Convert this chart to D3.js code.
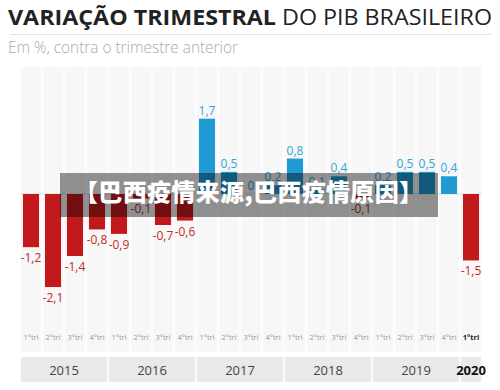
<!DOCTYPE html>
<html><head><meta charset="utf-8">
<script src="https://cdn.jsdelivr.net/npm/d3@7"></script>
<style>body{margin:0;background:#fff}svg{display:block}</style>
</head><body>
<svg id="c" width="500" height="390"></svg>
<script>
const years = ["2015","2016","2017","2018","2019","2020"];
const quarters = ["1°tri","2°tri","3°tri","4°tri"];
const yearQuarterCounts = [4,4,4,4,4,1];
const values = [-1.2,-2.1,-1.4,-0.8, -0.9,-0.1,-0.7,-0.6, 1.7,0.5,0,0.2, 0.8,0.1,0.4,-0.1, 0.2,0.5,0.5,0.4, -1.5];
const title1 = "VARIAÇÃO TRIMESTRAL";
const title2 = "DO PIB BRASILEIRO";
const subtitle = "Em %, contra o trimestre anterior";
const watermark = "【巴西疫情来源,巴西疫情原因】";

const svg = d3.select("#c");
const font = "'Open Sans', sans-serif";

// Title
svg.append("text").attr("x",8).attr("y",25).attr("font-family",font).attr("font-weight",700)
  .attr("font-size",22).attr("fill","#222").attr("textLength",268).attr("lengthAdjust","spacingAndGlyphs").text(title1);
svg.append("text").attr("x",282).attr("y",25).attr("font-family",font).attr("font-weight",400)
  .attr("font-size",22).attr("fill","#222").attr("textLength",210).attr("lengthAdjust","spacingAndGlyphs").text(title2);
svg.append("line").attr("x1",10).attr("x2",492).attr("y1",34.5).attr("y2",34.5).attr("stroke","#e3e3e3").attr("stroke-width",1);
svg.append("text").attr("x",8).attr("y",53).attr("font-family",font).attr("font-weight",300)
  .attr("font-size",16).attr("fill","#aaa").attr("textLength",230).attr("lengthAdjust","spacingAndGlyphs").text(subtitle);

// Build quarter list
const items = [];
years.forEach((yr,yi)=>{ for(let q=0;q<yearQuarterCounts[yi];q++) items.push({year:yr,q:quarters[q]}); });
items.forEach((d,i)=>{ d.v = values[i]; d.i = i; });

const x = d3.scaleBand().domain(d3.range(items.length)).range([20,482]).paddingInner(0).paddingOuter(0);
const xb = d3.scaleBand().domain(d3.range(items.length)).range([20,482]).paddingInner(0.27).paddingOuter(0.135);
const y = d3.scaleLinear().domain([-3,3]).range([194+132.9,194-132.9]);

// Column stripes
svg.append("g").selectAll("rect").data(items).join("rect")
  .attr("x",d=>x(d.i)+0.75).attr("width",x.bandwidth()-1.5)
  .attr("y",67).attr("height",352-67).attr("fill","#f7f7f7");

// Zero line
svg.append("line").attr("x1",20).attr("x2",482).attr("y1",y(0)).attr("y2",y(0)).attr("stroke","#ddd").attr("stroke-width",1);

const red = "#c1191c", blue = "#1f9ad2";
// Bars
svg.append("g").selectAll("rect").data(items).join("rect")
  .attr("x",d=>xb(d.i)).attr("width",xb.bandwidth())
  .attr("y",d=>y(Math.max(0,d.v))).attr("height",d=>Math.abs(y(d.v)-y(0)))
  .attr("fill",d=>d.v<0?red:blue);

const fmt = v => (v===0?"0":d3.format(".1f")(v).replace(".",",").replace("−","-"));
svg.append("g").selectAll("text").data(items).join("text")
  .attr("x",d=>xb(d.i)+xb.bandwidth()/2)
  .attr("y",d=>d.v<0? y(d.v)+15 : y(d.v)-4)
  .attr("text-anchor","middle").attr("font-family",font).attr("font-size",12)
  .attr("fill",d=>d.v<0?"#c52a2a":"#35a3da").text(d=>fmt(d.v));

// Quarter labels
svg.append("g").selectAll("text").data(items).join("text")
  .attr("x",d=>x(d.i)+x.bandwidth()/2).attr("y",340)
  .attr("text-anchor","middle").attr("font-family",font).attr("font-size",7.5)
  .attr("font-weight",d=>d.year==="2020"?700:400)
  .attr("fill",d=>d.year==="2020"?"#222":"#999").text(d=>d.q);

// Year band
let start = 0;
const yearBlocks = years.map((yr,yi)=>{ const b={year:yr,s:start,e:start+yearQuarterCounts[yi]-1}; start+=yearQuarterCounts[yi]; return b; });
svg.append("g").selectAll("rect").data(yearBlocks).join("rect")
  .attr("x",d=>x(d.s)+0.75).attr("width",d=>x(d.e)+x.bandwidth()-x(d.s)-1.5)
  .attr("y",357).attr("height",25).attr("fill","#e9e9e9");
svg.append("g").selectAll("text").data(yearBlocks).join("text")
  .attr("x",d=>(x(d.s)+x(d.e)+x.bandwidth())/2).attr("y",374.5)
  .attr("text-anchor","middle").attr("font-family",font).attr("font-size",13)
  .attr("font-weight",d=>d.year==="2020"?700:400)
  .attr("fill",d=>d.year==="2020"?"#111":"#444").text(d=>d.year);

// Watermark overlay
svg.append("rect").attr("x",60).attr("y",173).attr("width",378).attr("height",44).attr("fill","rgba(0,0,0,0.42)");
svg.append("text").attr("x",74).attr("y",201).attr("text-anchor","start")
  .attr("font-family","'Noto Sans CJK SC', sans-serif").attr("font-weight",900).attr("font-size",24)
  .attr("textLength",349).attr("lengthAdjust","spacing")
  .attr("fill","#fff").text(watermark);
</script>
</body></html>
